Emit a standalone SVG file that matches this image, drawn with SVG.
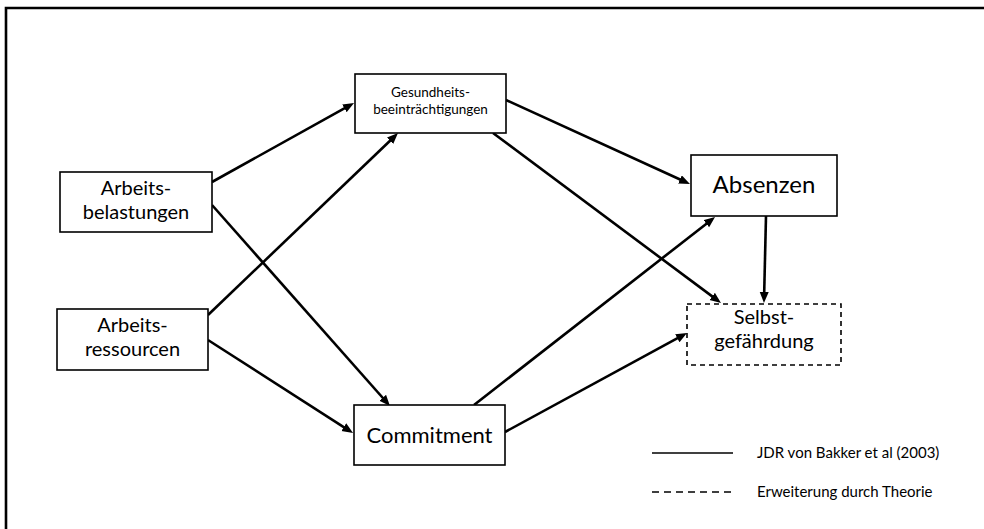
<svg xmlns="http://www.w3.org/2000/svg" width="984" height="529" viewBox="0 0 984 529">
  <style>
    .box { fill: #ffffff; stroke: #000000; stroke-width: 1.6; }
    .dashed { stroke-dasharray: 5 4; }
    .lbl { font-family: Lato, "Liberation Sans", sans-serif; fill: #000000; text-anchor: middle; }
    .big { font-size: 20px; }
    .small { font-size: 13.5px; }
    .legend { font-family: Lato, "Liberation Sans", sans-serif; font-size: 15px; fill: #000000; }
    .edge { stroke: #000000; stroke-width: 2.6; fill: none; marker-end: url(#head); }
  </style>
  <defs>
    <marker id="head" markerUnits="userSpaceOnUse" markerWidth="12" markerHeight="10" refX="5" refY="4.5" orient="auto" viewBox="0 0 12 10">
      <path d="M0,0 L11,4.5 L0,9 z" fill="#000000"/>
    </marker>
  </defs>
  <rect width="984" height="529" fill="#ffffff"/>

  <!-- outer frame -->
  <path d="M6,529 V8 H984" fill="none" stroke="#000000" stroke-width="2.6"/>

  <g id="connectors">
    <line class="edge" x1="212" y1="182" x2="348.8" y2="105.9"/>
    <line class="edge" x1="212" y1="205" x2="386.0" y2="401.5"/>
    <line class="edge" x1="208" y1="315" x2="393.7" y2="137.2"/>
    <line class="edge" x1="208" y1="340" x2="348.0" y2="429.8"/>
    <line class="edge" x1="506" y1="100" x2="684.5" y2="181.5"/>
    <line class="edge" x1="493" y1="133" x2="716.2" y2="299.4"/>
    <line class="edge" x1="474" y1="405" x2="710.3" y2="220.7"/>
    <line class="edge" x1="505" y1="432" x2="681.7" y2="335.9"/>
    <line class="edge" x1="766" y1="216" x2="764.1" y2="297"/>
  </g>

  <g id="gesundheit">
    <rect class="box" x="355" y="74" width="151" height="59"/>
    <text class="lbl small" x="430.5" y="97">Gesundheits-</text>
    <text class="lbl small" x="430.5" y="114">beeinträchtigungen</text>
  </g>

  <g id="belastungen">
    <rect class="box" x="60" y="172" width="152" height="60"/>
    <text class="lbl big" x="136" y="195">Arbeits-</text>
    <text class="lbl big" x="136" y="219">belastungen</text>
  </g>

  <g id="ressourcen">
    <rect class="box" x="57" y="309" width="151" height="61"/>
    <text class="lbl big" x="132.5" y="332">Arbeits-</text>
    <text class="lbl big" x="132.5" y="356">ressourcen</text>
  </g>

  <g id="absenzen">
    <rect class="box" x="691" y="155" width="146" height="61"/>
    <text class="lbl" x="764" y="193" font-size="24">Absenzen</text>
  </g>

  <g id="selbstgefaehrdung">
    <rect class="box dashed" x="687" y="304" width="154" height="61"/>
    <text class="lbl big" x="764" y="324">Selbst-</text>
    <text class="lbl big" x="764" y="348">gefährdung</text>
  </g>

  <g id="commitment">
    <rect class="box" x="354" y="405" width="151" height="60"/>
    <text class="lbl" x="429.5" y="443" font-size="22">Commitment</text>
  </g>

  <g id="legend">
    <line x1="652" y1="453" x2="733" y2="453" stroke="#000000" stroke-width="1.6"/>
    <text class="legend" x="757" y="458">JDR von Bakker et al (2003)</text>
    <line x1="652" y1="492" x2="733" y2="492" stroke="#000000" stroke-width="1.6" stroke-dasharray="7 5"/>
    <text class="legend" x="757" y="497">Erweiterung durch Theorie</text>
  </g>
</svg>
